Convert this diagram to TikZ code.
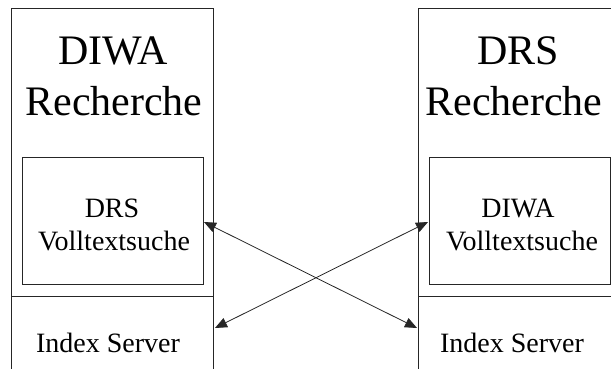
\documentclass[tikz,border=0pt]{standalone}
\usepackage{fontspec}
\setmainfont{Liberation Serif}
\newfontfamily\timesfam{Liberation Serif}
\usetikzlibrary{arrows.meta}
\begin{document}
\begin{tikzpicture}[x=1pt,y=-1pt,
  frame/.style={draw=black!85,line width=0.9pt,inner sep=0pt},
  bigtxt/.style={anchor=base,inner sep=0pt,font=\timesfam\fontsize{42}{50}\selectfont},
  midtxt/.style={anchor=base,inner sep=0pt,font=\timesfam\fontsize{28}{33}\selectfont},
  link/.style={draw=black!85,line width=0.8pt,{Triangle[length=12pt,width=10pt]}-{Triangle[length=12pt,width=10pt]}}]
\useasboundingbox (0,0) rectangle (611,369);
% outer frames (extend past the lower/right edge)
\draw[frame] (11,390) -- (11,8) -- (213,8) -- (213,390);
\draw[frame] (11,296) -- (213,296);
\draw[frame] (418,390) -- (418,8) -- (640,8);
\draw[frame] (418,296) -- (640,296);
% inner boxes
\node[frame,minimum width=181pt,minimum height=127pt] (ldrs) at (112.5,220.5) {};
\node[frame,minimum width=181pt,minimum height=127pt] (rdiwa) at (519.5,220.5) {};
% texts
\node[bigtxt] (lt1) at (113,65) {DIWA};
\node[bigtxt] (lt2) at (114,115) {Recherche};
\node[midtxt] (li1) at (112,217) {DRS};
\node[midtxt] (li2) at (114,250) {Volltextsuche};
\node[midtxt] (lidx) at (108,352) {Index Server};
\node[bigtxt] (rt1) at (518,65) {DRS};
\node[bigtxt] (rt2) at (514,115) {Recherche};
\node[midtxt] (ri1) at (518,217) {DIWA};
\node[midtxt] (ri2) at (522,250) {Volltextsuche};
\node[midtxt] (ridx) at (512,352) {Index Server};
% connector end points
\coordinate (la) at (204,222);
\coordinate (ra) at (428,222);
\coordinate (lb) at (215,328);
\coordinate (rb) at (417,328);
\draw[link] (la) -- (rb);
\draw[link] (ra) -- (lb);
\end{tikzpicture}
\end{document}
